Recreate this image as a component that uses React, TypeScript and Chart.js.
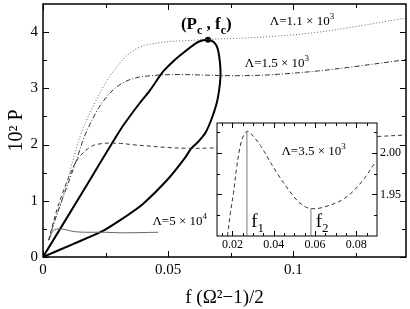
import React, { useEffect, useRef } from 'react';
import { Chart, registerables } from 'chart.js';

Chart.register(...registerables);

const SERIF = '"Liberation Serif", "Times New Roman", Times, serif';

// ---- main axes ----
const xMajorTicks = [0, 0.05, 0.1];
const xTickLabels = ['0', '0.05', '0.1'];
const xMinorTicks = [0.025, 0.075, 0.125];
const yMajorTicks = [0, 1, 2, 3, 4];
const yTickLabels = ['0', '1', '2', '3', '4'];
const yMinorTicks = [0.5, 1.5, 2.5, 3.5];

// ---- main series ----
// Λ = 1.1 × 10^3 (dotted)
const lam11X = [0.0023, 0.0045, 0.0075, 0.0115, 0.0155, 0.0208, 0.026, 0.0313, 0.035, 0.0385, 0.042, 0.05, 0.058, 0.066, 0.078, 0.094, 0.11, 0.125, 0.145];
const lam11Y = [0.30, 0.62, 1.00, 1.65, 2.23, 2.75, 3.17, 3.48, 3.64, 3.73, 3.78, 3.83, 3.85, 3.87, 3.89, 3.93, 4.00, 4.10, 4.25];
// Λ = 1.5 × 10^3 (dash-dot)
const lam15X = [0.0023, 0.0045, 0.0075, 0.0128, 0.0168, 0.0221, 0.026, 0.029, 0.032, 0.035, 0.0385, 0.042, 0.048, 0.055, 0.065, 0.075, 0.085, 0.094, 0.11, 0.125, 0.145];
const lam15Y = [0.30, 0.62, 1.00, 1.65, 2.17, 2.64, 2.88, 3.01, 3.10, 3.16, 3.20, 3.22, 3.24, 3.245, 3.235, 3.225, 3.23, 3.25, 3.31, 3.39, 3.51];
// Λ = 3.5 × 10^3 (dashed)
const lam35X = [0.0023, 0.0036, 0.006, 0.0102, 0.0142, 0.0194, 0.024, 0.027, 0.031, 0.0365, 0.0415, 0.0495, 0.058, 0.066, 0.0735, 0.0815, 0.0896, 0.1, 0.11, 0.12, 0.1325, 0.145];
const lam35Y = [0.30, 0.53, 0.90, 1.41, 1.76, 1.97, 2.02, 2.026, 2.02, 1.995, 1.976, 1.948, 1.933, 1.937, 1.944, 1.962, 1.99, 2.03, 2.07, 2.10, 2.14, 2.17];
// Λ = 5 × 10^4 (thin solid)
const lam5e4X = [0.0023, 0.0042, 0.0069, 0.0128, 0.018, 0.025, 0.031, 0.046];
const lam5e4Y = [0.30, 0.47, 0.50, 0.45, 0.44, 0.44, 0.43, 0.44];
// critical loop (thick solid)
const loopX = [0, 0.016, 0.0313, 0.0385, 0.0425, 0.048, 0.0525, 0.0557, 0.061, 0.0635, 0.0659, 0.0683, 0.0698, 0.0707, 0.0709, 0.0703, 0.0693, 0.0673, 0.065, 0.062, 0.059, 0.057, 0.0504, 0.0398, 0.0313, 0.0233, 0.012, 0];
const loopY = [0, 1.17, 2.29, 2.73, 2.95, 3.30, 3.50, 3.62, 3.80, 3.85, 3.865, 3.82, 3.70, 3.45, 3.22, 2.95, 2.72, 2.45, 2.22, 2.05, 1.92, 1.78, 1.41, 0.94, 0.67, 0.45, 0.23, 0];
// critical point (Pc, fc)
const peakX = [0.0659];
const peakY = [3.865];

// ---- inset ----
const insetXMajor = [0.02, 0.04, 0.06, 0.08];
const insetXLabels = ['0.02', '0.04', '0.06', '0.08'];
const insetXMinor = [0.015, 0.025, 0.03, 0.035, 0.045, 0.05, 0.055, 0.065, 0.07, 0.075, 0.085];
const insetYMajor = [1.95, 2.0];
const insetYLabels = ['1.95', '2.00'];
const insetYMinor = [1.925, 1.975, 2.025];
const insetX = [0.0176, 0.019, 0.0205, 0.022, 0.0235, 0.025, 0.027, 0.029, 0.0335, 0.0415, 0.0495, 0.054, 0.058, 0.063, 0.0735, 0.0815, 0.0896];
const insetY = [1.900, 1.928, 1.952, 1.982, 2.005, 2.019, 2.026, 2.023, 2.009, 1.976, 1.948, 1.937, 1.933, 1.934, 1.944, 1.962, 1.990];
const f1X = [0.027, 0.027];
const f1Y = [1.9, 2.026];
const f2X = [0.058, 0.058];
const f2Y = [1.9, 1.933];

type Seg = { t: string; size: number; dy?: number; bold?: boolean };
type Note = { x: number; y: number; segs: Seg[] };

const zip = (xs: number[], ys: number[]) => xs.map((x, i) => ({ x, y: ys[i] }));

function drawRich(ctx: CanvasRenderingContext2D, x: number, y: number, segs: Seg[]) {
  let cx = x;
  ctx.textAlign = 'left';
  ctx.textBaseline = 'alphabetic';
  ctx.fillStyle = '#000';
  for (const s of segs) {
    ctx.font = `${s.bold ? 'bold ' : ''}${s.size}px ${SERIF}`;
    ctx.fillText(s.t, cx, y + (s.dy || 0));
    cx += ctx.measureText(s.t).width;
  }
}

function makeFrame(cfg: { xMajor: number[]; xMinor: number[]; yMajor: number[]; yMinor: number[]; major: number; minor: number; lw: number; fill: boolean }) {
  return {
    id: 'frame',
    beforeDatasetsDraw(chart: any) {
      if (!cfg.fill) return;
      const { ctx, chartArea: a } = chart;
      ctx.save();
      ctx.fillStyle = '#fff';
      ctx.fillRect(a.left, a.top, a.right - a.left, a.bottom - a.top);
      ctx.restore();
    },
    afterDatasetsDraw(chart: any) {
      const { ctx, chartArea: a, scales } = chart;
      ctx.save();
      ctx.strokeStyle = '#000';
      ctx.lineWidth = cfg.lw;
      ctx.strokeRect(a.left, a.top, a.right - a.left, a.bottom - a.top);
      ctx.lineWidth = 1;
      ctx.beginPath();
      const xt = (vals: number[], len: number) => {
        for (const v of vals) {
          const p = Math.round(scales.x.getPixelForValue(v)) + 0.5;
          ctx.moveTo(p, a.bottom); ctx.lineTo(p, a.bottom - len);
          ctx.moveTo(p, a.top); ctx.lineTo(p, a.top + len);
        }
      };
      const yt = (vals: number[], len: number) => {
        for (const v of vals) {
          const p = Math.round(scales.y.getPixelForValue(v)) + 0.5;
          ctx.moveTo(a.left, p); ctx.lineTo(a.left + len, p);
          ctx.moveTo(a.right, p); ctx.lineTo(a.right - len, p);
        }
      };
      xt(cfg.xMajor, cfg.major); xt(cfg.xMinor, cfg.minor);
      yt(cfg.yMajor, cfg.major); yt(cfg.yMinor, cfg.minor);
      ctx.stroke();
      ctx.restore();
    },
  };
}

function makeNotes(items: Note[]) {
  return {
    id: 'notes',
    afterDatasetsDraw(chart: any) {
      const { ctx, scales } = chart;
      ctx.save();
      for (const it of items) {
        drawRich(ctx, scales.x.getPixelForValue(it.x), scales.y.getPixelForValue(it.y), it.segs);
      }
      ctx.restore();
    },
  };
}

const line = (xs: number[], ys: number[], color: string, width: number, dash: number[], tension = 0.35) => ({
  data: zip(xs, ys),
  borderColor: color,
  borderWidth: width,
  borderDash: dash,
  pointRadius: 0,
  fill: false,
  tension,
  showLine: true,
});

const fixBox = (w: number | null, h: number | null) => (s: any) => {
  if (w !== null) s.width = w;
  if (h !== null) s.height = h;
  s.paddingTop = 0;
  s.paddingBottom = 0;
  s.paddingLeft = 0;
  s.paddingRight = 0;
};

const noGrid = { display: false, drawTicks: false, tickLength: 0 };

export default function App() {
  const mainRef = useRef<HTMLCanvasElement>(null);
  const insetRef = useRef<HTMLCanvasElement>(null);

  useEffect(() => {
    const mainNotes: Note[] = [
      { x: 0.0551, y: 4.06, segs: [{ t: '(P', size: 17, bold: true }, { t: 'c', size: 12, dy: 5, bold: true }, { t: ' , f', size: 17, bold: true }, { t: 'c', size: 12, dy: 5, bold: true }, { t: ')', size: 17, bold: true }] },
      { x: 0.0906, y: 4.13, segs: [{ t: 'Λ=1.1 × 10', size: 13 }, { t: '3', size: 9, dy: -6 }] },
      { x: 0.0806, y: 3.375, segs: [{ t: 'Λ=1.5 × 10', size: 13 }, { t: '3', size: 9, dy: -6 }] },
      { x: 0.0437, y: 0.5625, segs: [{ t: 'Λ=5 × 10', size: 13 }, { t: '4', size: 9, dy: -6 }] },
    ];
    const main = new Chart(mainRef.current!, {
      type: 'line',
      data: {
        datasets: [
          line(lam11X, lam11Y, '#666', 1, [1, 2]),
          line(lam15X, lam15Y, '#333', 1, [5, 2, 1, 2]),
          line(lam35X, lam35Y, '#333', 1, [4, 3]),
          line(lam5e4X, lam5e4Y, '#666', 1, []),
          line(loopX, loopY, '#000', 2, [], 0.22),
          { data: zip(peakX, peakY), showLine: false, pointRadius: 3, pointBackgroundColor: '#000', pointBorderWidth: 0, borderColor: '#000' },
        ] as any,
      },
      options: {
        animation: false,
        responsive: false,
        devicePixelRatio: 1,
        events: [],
        layout: { padding: { top: 1, right: 2, left: 0, bottom: 0 } },
        plugins: { legend: { display: false }, tooltip: { enabled: false } },
        scales: {
          x: {
            type: 'linear',
            min: 0,
            max: 0.145,
            grid: noGrid,
            border: { display: false },
            afterBuildTicks: (s: any) => { s.ticks = xMajorTicks.map((v) => ({ value: v })); },
            afterFit: fixBox(null, 52),
            ticks: { autoSkip: false, maxRotation: 0, padding: 4, color: '#000', font: { family: SERIF, size: 15 }, callback: (_v: any, i: number) => xTickLabels[i] },
            title: { display: true, text: 'f (Ω²−1)/2', color: '#000', font: { family: SERIF, size: 19, lineHeight: 1 }, padding: { top: 0, bottom: 1 } },
          },
          y: {
            type: 'linear',
            min: 0,
            max: 4.5,
            grid: noGrid,
            border: { display: false },
            afterBuildTicks: (s: any) => { s.ticks = yMajorTicks.map((v) => ({ value: v })); },
            afterFit: fixBox(43, null),
            ticks: { autoSkip: false, padding: 5, color: '#000', font: { family: SERIF, size: 15 }, callback: (_v: any, i: number) => yTickLabels[i] },
            title: { display: true, text: '10² P', color: '#000', font: { family: SERIF, size: 20, lineHeight: 1 }, padding: { top: 7, bottom: 0 } },
          },
        },
      } as any,
      plugins: [
        makeFrame({ xMajor: xMajorTicks, xMinor: xMinorTicks, yMajor: yMajorTicks, yMinor: yMinorTicks, major: 6, minor: 4, lw: 1.5, fill: false }),
        makeNotes(mainNotes),
      ],
    });

    const insetNotes: Note[] = [
      { x: 0.0437, y: 1.997, segs: [{ t: 'Λ=3.5 × 10', size: 13 }, { t: '3', size: 9, dy: -6 }] },
      { x: 0.0291, y: 1.911, segs: [{ t: 'f', size: 19 }, { t: '1', size: 13, dy: 5 }] },
      { x: 0.0603, y: 1.911, segs: [{ t: 'f', size: 19 }, { t: '2', size: 13, dy: 5 }] },
    ];
    const inset = new Chart(insetRef.current!, {
      type: 'line',
      data: {
        datasets: [
          line(f1X, f1Y, '#777', 1, [], 0),
          line(f2X, f2Y, '#777', 1, [], 0),
          line(insetX, insetY, '#333', 1, [4, 3]),
        ] as any,
      },
      options: {
        animation: false,
        responsive: false,
        devicePixelRatio: 1,
        events: [],
        layout: { padding: { top: 4, right: 0, left: 4, bottom: 0 } },
        plugins: { legend: { display: false }, tooltip: { enabled: false } },
        scales: {
          x: {
            type: 'linear',
            min: 0.0125,
            max: 0.09,
            grid: noGrid,
            border: { display: false },
            afterBuildTicks: (s: any) => { s.ticks = insetXMajor.map((v) => ({ value: v })); },
            afterFit: fixBox(null, 19),
            ticks: { autoSkip: false, maxRotation: 0, padding: 2, color: '#000', font: { family: SERIF, size: 12 }, callback: (_v: any, i: number) => insetXLabels[i] },
          },
          y: {
            type: 'linear',
            position: 'right',
            min: 1.9,
            max: 2.036,
            grid: noGrid,
            border: { display: false },
            afterBuildTicks: (s: any) => { s.ticks = insetYMajor.map((v) => ({ value: v })); },
            afterFit: fixBox(30, null),
            ticks: { autoSkip: false, padding: 3, color: '#000', font: { family: SERIF, size: 12 }, callback: (_v: any, i: number) => insetYLabels[i] },
          },
        },
      } as any,
      plugins: [
        makeFrame({ xMajor: insetXMajor, xMinor: insetXMinor, yMajor: insetYMajor, yMinor: insetYMinor, major: 5, minor: 3, lw: 1, fill: true }),
        makeNotes(insetNotes),
      ],
    });

    return () => {
      main.destroy();
      inset.destroy();
    };
  }, []);

  return (
    <div style={{ position: 'fixed', left: 0, top: 0, width: 410, height: 309, background: '#fff' }}>
      <canvas ref={mainRef} width={410} height={309} style={{ position: 'absolute', left: 0, top: 0, width: 410, height: 309 }} />
      <canvas ref={insetRef} width={194} height={136} style={{ position: 'absolute', left: 213, top: 119, width: 194, height: 136 }} />
    </div>
  );
}
